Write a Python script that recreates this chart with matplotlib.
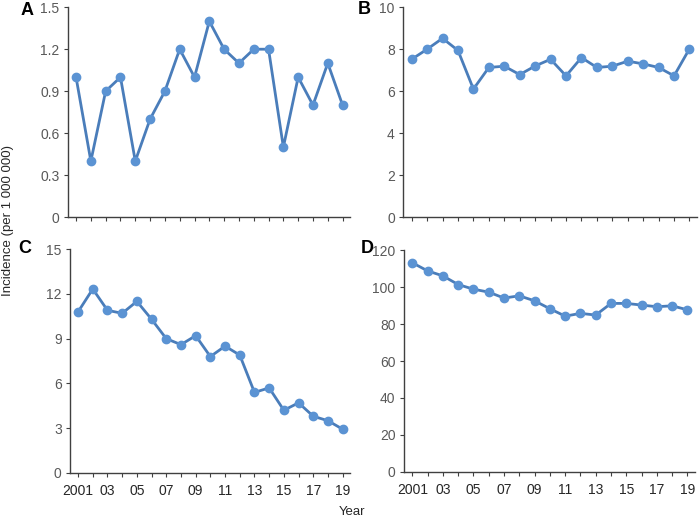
import numpy as np
from matplotlib import pyplot as plt

plt.rcParams['font.family'] = ['Liberation Sans', 'DejaVu Sans']

years = list(range(2001, 2020))
year_labels = ['2001', '', '03', '', '05', '', '07', '', '09', '', '11', '', '13', '', '15', '', '17', '', '19']

inc_a = [1.0, 0.4, 0.9, 1.0, 0.4, 0.7, 0.9, 1.2, 1.0, 1.4, 1.2, 1.1, 1.2, 1.2, 0.5, 1.0, 0.8, 1.1, 0.8]
inc_b = [7.52, 8.0, 8.52, 7.94, 6.1, 7.13, 7.19, 6.79, 7.2, 7.52, 6.73, 7.6, 7.13, 7.19, 7.43, 7.3, 7.13, 6.73, 8.02]
inc_c = [10.8, 12.33, 10.9, 10.7, 11.5, 10.3, 9.0, 8.6, 9.2, 7.8, 8.5, 7.9, 5.4, 5.7, 4.2, 4.7, 3.8, 3.5, 2.93]
inc_d = [113.2, 108.8, 106.1, 101.4, 98.9, 97.3, 94.1, 95.3, 92.6, 88.3, 84.3, 85.8, 84.9, 91.2, 91.2, 90.3, 89.4, 89.9, 87.7]

line_col = '#4a7dba'
dot_col = '#5b93d3'
txt_col = '#595959'

fig = plt.figure(figsize=(7, 5.18), dpi=100)

panels = [
    ('A', inc_a, [0, 1.5], [0, 0.3, 0.6, 0.9, 1.2, 1.5], ['0', '0.3', '0.6', '0.9', '1.2', '1.5'], [0.097, 0.581, 0.403, 0.405], False),
    ('B', inc_b, [0, 10], [0, 2, 4, 6, 8, 10], ['0', '2', '4', '6', '8', '10'], [0.576, 0.581, 0.42, 0.405], False),
    ('C', inc_c, [0, 15], [0, 3, 6, 9, 12, 15], ['0', '3', '6', '9', '12', '15'], [0.1, 0.087, 0.4, 0.432], True),
    ('D', inc_d, [0, 120], [0, 20, 40, 60, 80, 100, 120], ['0', '20', '40', '60', '80', '100', '120'], [0.577, 0.089, 0.416, 0.428], True),
]

for letter, vals, ylim, yt, ytl, rect, show_x in panels:
    ax = fig.add_axes(rect)
    ax.plot(years, vals, color=line_col, linewidth=2, marker='o', markersize=6,
            markerfacecolor=dot_col, markeredgecolor=dot_col)
    ax.set_xlim(2000.45, 2019.5)
    ax.set_ylim(ylim)
    ax.set_yticks(yt)
    ax.set_yticklabels(ytl)
    ax.set_xticks(years)
    if show_x:
        ax.set_xticklabels(year_labels)
    else:
        ax.set_xticklabels([])
    ax.spines['top'].set_visible(False)
    ax.spines['right'].set_visible(False)
    for s in ['left', 'bottom']:
        ax.spines[s].set_color('#404040')
        ax.spines[s].set_linewidth(1)
    ax.tick_params(axis='both', direction='out', length=3, width=0.8, color='#404040',
                   labelcolor=txt_col, labelsize=10, pad=3)
    ax.tick_params(axis='x', labelcolor='#262626', pad=5)

fig.text(0.039, 0.979, 'A', fontsize=13, fontweight='bold', ha='center', va='center')
fig.text(0.521, 0.981, 'B', fontsize=13, fontweight='bold', ha='center', va='center')
fig.text(0.036, 0.521, 'C', fontsize=13, fontweight='bold', ha='center', va='center')
fig.text(0.524, 0.521, 'D', fontsize=13, fontweight='bold', ha='center', va='center')
fig.text(0.011, 0.575, 'Incidence (per 1 000 000)', rotation=90, fontsize=9.5, va='center', ha='center', color='#262626')
fig.text(0.503, 0.012, 'Year', fontsize=9.5, ha='center', va='center', color='#262626')

fig.savefig('out.png', dpi=100)
